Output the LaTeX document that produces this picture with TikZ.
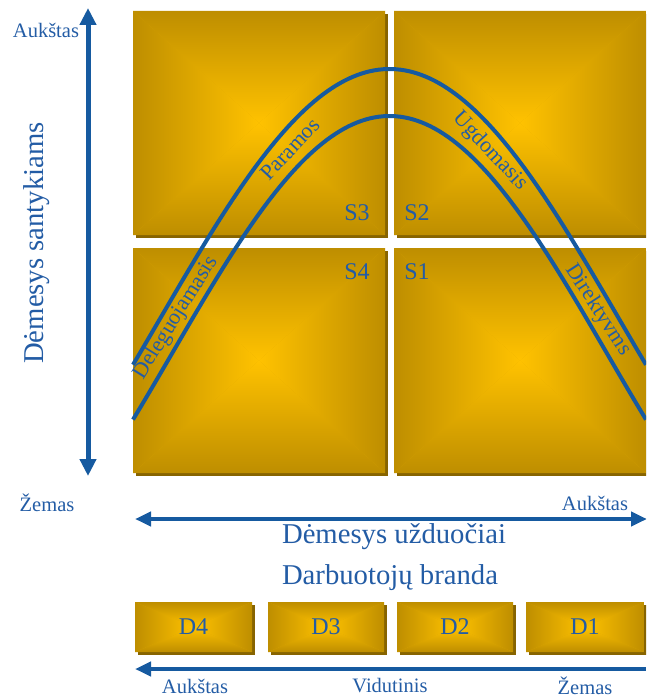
\documentclass[tikz,border=0pt]{standalone}
\usepackage{fontspec}
\setmainfont{Liberation Serif}
\usetikzlibrary{arrows.meta}
\definecolor{gedge}{RGB}{190,142,0}
\definecolor{gcenter}{RGB}{255,194,0}
\definecolor{gshadow}{RGB}{135,100,0}
\definecolor{dblue}{RGB}{22,90,160}
\definecolor{tblue}{RGB}{35,92,165}
\newcommand\goldrect[4]{%
  \fill[gshadow] (#1+3,#2+3) rectangle (#3+3,#4+3);
  \fill[gedge!50!gcenter] (#1,#2) rectangle (#3,#4);
  \shade[top color=gedge,bottom color=gcenter] (#1,#2) -- (#3,#2) -- ({(#1+#3)/2},{(#2+#4)/2}) -- cycle;
  \shade[top color=gcenter,bottom color=gedge] (#1,#4) -- (#3,#4) -- ({(#1+#3)/2},{(#2+#4)/2}) -- cycle;
  \shade[left color=gedge,right color=gcenter] (#1,#2) -- (#1,#4) -- ({(#1+#3)/2},{(#2+#4)/2}) -- cycle;
  \shade[left color=gcenter,right color=gedge] (#3,#2) -- (#3,#4) -- ({(#1+#3)/2},{(#2+#4)/2}) -- cycle;
}
\tikzset{
  lbl/.style={text=tblue, inner sep=0pt, font=\fontsize{20.5}{22}\selectfont},
  biglbl/.style={text=tblue, inner sep=0pt, font=\fontsize{28.7}{30}\selectfont},
  slbl/.style={text=tblue, inner sep=0pt, font=\fontsize{24}{26}\selectfont},
  clbl/.style={text=tblue, inner sep=0pt, font=\fontsize{22}{24}\selectfont},
  curve/.style={draw=dblue, line width=4pt},
  axis/.style={draw=dblue, line width=4.5pt},
}
\begin{document}
\begin{tikzpicture}[x=1pt,y=-1pt]
\useasboundingbox (0,0) rectangle (646,698);
\clip (0,0) rectangle (646,698);
% quadrants
\goldrect{133}{11}{385}{235}
\goldrect{394}{11}{646}{235}
\goldrect{133}{248}{385}{473}
\goldrect{394}{248}{646}{473}
% curves
\draw[curve] plot[domain=133:646, samples=120] ({\x},{69+251*(1-cos(deg(1.75*(\x-389.5)/256.5)))});
\draw[curve] plot[domain=133:646, samples=120] ({\x},{116+238*(1-cos(deg(1.85*(\x-389.5)/256.5)))});
% curve labels
\node[clbl, rotate=47] (par) at (290,149) {Paramos};
\node[clbl, rotate=-47] (ugd) at (490,151) {Ugdomasis};
\node[clbl, rotate=58] (del) at (176,318) {Deleguojamasis};
\node[clbl, rotate=-57] (dir) at (598,310) {Direktyvms};
% S labels
\node[slbl] (s3) at (357,213) {S3};
\node[slbl] (s2) at (417,213) {S2};
\node[slbl] (s4) at (357,272) {S4};
\node[slbl] (s1) at (417,272) {S1};
% vertical axis
\coordinate (vtop) at (88,8);
\coordinate (vbot) at (88,476);
\draw[axis, line width=5pt, {Triangle[length=17pt,width=16pt]}-{Triangle[length=17pt,width=16pt]}] (vbot) -- (vtop);
\node[lbl] (yhigh) at (46,30) {Aukštas};
\node[lbl] (ylow) at (47,503) {Žemas};
\node[biglbl, rotate=90] (ylab) at (37,243) {Dėmesys santykiams};
% horizontal axis
\coordinate (hl) at (135,519);
\coordinate (hr) at (647,519);
\draw[axis, {Triangle[length=16pt,width=14pt]}-{Triangle[length=16pt,width=14pt]}] (hl) -- (hr);
\node[lbl] (xhigh) at (595,503) {Aukštas};
\node[biglbl] (xlab) at (394,537) {Dėmesys užduočiai};
\node[biglbl] (blab) at (390,578) {Darbuotojų branda};
% D boxes
\goldrect{135}{602}{252}{652}
\goldrect{268}{602}{384}{652}
\goldrect{397}{602}{513}{652}
\goldrect{526}{602}{644}{652}
\node[slbl] (d4) at (193.5,627) {D4};
\node[slbl] (d3) at (326,627) {D3};
\node[slbl] (d2) at (455,627) {D2};
\node[slbl] (d1) at (585,627) {D1};
% bottom arrow
\coordinate (bl) at (135,669);
\coordinate (br) at (646,669);
\draw[axis, line width=4pt, {Triangle[length=16pt,width=14pt]}-] (bl) -- (br);
\node[lbl] (bhigh) at (195,686) {Aukštas};
\node[lbl] (bmid) at (390,686) {Vidutinis};
\node[lbl] (blow) at (585,686) {Žemas};
\end{tikzpicture}
\end{document}
